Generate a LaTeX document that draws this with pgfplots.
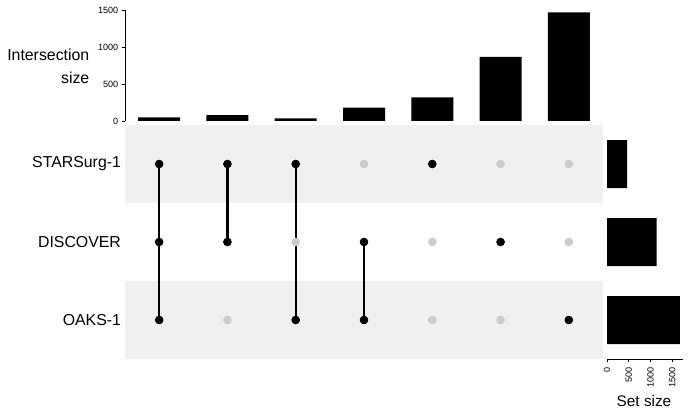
\documentclass[border=0pt]{standalone}
\usepackage{fontspec}
\setmainfont{Liberation Sans}
\usepackage{pgfplots}
\pgfplotsset{compat=1.18}
\definecolor{band}{RGB}{240,240,240}
\definecolor{dotgray}{RGB}{204,204,204}
\begin{document}
\begin{tikzpicture}
\path[use as bounding box] (0,0) rectangle (518.25pt,310.5pt);
% ---- intersection size bars
\begin{axis}[at={(93.75pt,219.75pt)}, anchor=south west, scale only axis,
  width=358.5pt, height=83.25pt, xmin=0.5, xmax=7.5, ymin=0, ymax=1500,
  axis x line=none, axis y line*=left, ytick={0,500,1000,1500},
  tick align=outside, major tick length=2.5pt, tick style={black, line width=0.6pt},
  axis line style={black, line width=0.6pt},
  /pgf/number format/assume math mode=true, /pgf/number format/1000 sep={},
  yticklabel style={font=\fontsize{6.8}{8}\selectfont, xshift=1pt},
  ybar, bar width=31.5pt, clip=false]
\addplot[fill=black, draw=none] coordinates {(1,50) (2,80) (3,36) (4,180) (5,320) (6,868) (7,1468)};
\end{axis}
\node[anchor=east, align=right, font=\fontsize{11.9}{17.2}\selectfont] at (70.5pt,261pt) {Intersection\\size};
% ---- matrix
\begin{axis}[at={(93.75pt,41.25pt)}, anchor=south west, scale only axis,
  width=358.5pt, height=175.5pt, xmin=0.5, xmax=7.5, ymin=0.5, ymax=3.5,
  axis line style={draw=none}, xtick=\empty, ytick={1,2,3},
  yticklabels={OAKS-1,DISCOVER,STARSurg-1}, major tick length=0pt,
  yticklabel style={font=\fontsize{11.9}{14}\selectfont, xshift=0.5pt}, clip=false]
\addplot[draw=none, fill=band] coordinates {(0.5,2.5) (7.5,2.5) (7.5,3.5) (0.5,3.5)} --cycle;
\addplot[draw=none, fill=band] coordinates {(0.5,0.5) (7.5,0.5) (7.5,1.5) (0.5,1.5)} --cycle;
\addplot[only marks, mark=*, mark size=3pt, color=dotgray] coordinates {(2,1) (3,2) (4,3) (5,2) (5,1) (6,3) (6,1) (7,3) (7,2)};
\addplot[black, line width=1.7pt] coordinates {(1,1) (1,3)};
\addplot[black, line width=1.7pt] coordinates {(2,2) (2,3)};
\addplot[black, line width=1.7pt] coordinates {(3,1) (3,3)};
\addplot[black, line width=1.7pt] coordinates {(4,1) (4,2)};
\addplot[only marks, mark=*, mark size=3pt, color=black] coordinates {(1,1) (1,2) (1,3) (2,2) (2,3) (3,1) (3,3) (4,1) (4,2) (5,3) (6,2) (7,1)};
\end{axis}
% ---- set size bars
\begin{axis}[at={(455.25pt,41.25pt)}, anchor=south west, scale only axis,
  width=57pt, height=175.5pt, xmin=0, xmax=1750, ymin=0.5, ymax=3.5,
  axis y line=none, axis x line*=bottom, xtick={0,500,1000,1500}, ytick=\empty,
  tick align=outside, major tick length=2.5pt, tick style={black, line width=0.6pt},
  axis line style={black, line width=0.6pt},
  /pgf/number format/assume math mode=true, /pgf/number format/1000 sep={},
  xticklabel style={font=\fontsize{6.8}{8}\selectfont, rotate=90, anchor=east},
  xbar, bar width=36pt, clip=false]
\addplot[fill=black, draw=none] coordinates {(1680,1) (1140,2) (465,3)};
\end{axis}
\node[font=\fontsize{11.5}{14}\selectfont] at (483pt,9.75pt) {Set size};
\end{tikzpicture}
\end{document}
